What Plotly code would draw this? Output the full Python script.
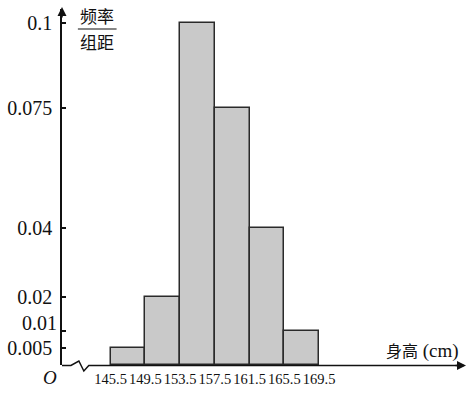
import plotly.graph_objects as go

# ---- data ----
bin_edges = [145.5, 149.5, 153.5, 157.5, 161.5, 165.5, 169.5]
freq_density = [0.005, 0.02, 0.1, 0.075, 0.04, 0.01]
y_ticks_main = [0.005, 0.02, 0.04, 0.075, 0.1]
y_tick_text_main = ["0.005", "0.02", "0.04", "0.075", "0.1"]
y_ticks_extra = [0.01]
y_tick_text_extra = ["0.01"]
x_tick_text = ["145.5", "149.5", "153.5", "157.5", "161.5", "165.5", "169.5"]

centers = [(a + b) / 2 for a, b in zip(bin_edges[:-1], bin_edges[1:])]
widths = [b - a for a, b in zip(bin_edges[:-1], bin_edges[1:])]

W, H = 472, 394
L, R, T, B = 59, 7, 9, 29
PW, PH = W - L - R, H - T - B

def px(xp):
    return (xp - L) / PW

def py(yp):
    return (H - B - yp) / PH

SERIF = "Liberation Serif, Times New Roman, serif"
CJK = "Noto Sans CJK SC"
INK = "#111"

fig = go.Figure()
fig.add_trace(go.Bar(
    x=centers, y=freq_density, width=widths,
    marker=dict(color="#c9c9c9", line=dict(color="#2a2a2a", width=1.5)),
    hoverinfo="skip",
))
# empty trace so the overlaid axis (for the 0.01 label) is drawn
fig.add_trace(go.Scatter(x=[None], y=[None], yaxis="y2", mode="markers",
                         hoverinfo="skip"))

ytickfont = dict(family=SERIF, size=20, color=INK)
fig.update_layout(
    width=W, height=H,
    margin=dict(l=L, r=R, t=T, b=B, pad=0),
    paper_bgcolor="white", plot_bgcolor="white",
    showlegend=False,
    bargap=0,
    xaxis=dict(
        range=[139.9, 186.3], showgrid=False, zeroline=False, showline=False,
        tickmode="array", tickvals=bin_edges, ticktext=x_tick_text,
        ticks="", tickangle=0, ticklabelstandoff=3,
        tickfont=dict(family=SERIF, size=14.5, color=INK),
    ),
    yaxis=dict(
        range=[0, 0.10409], showgrid=False, zeroline=False,
        showline=True, linecolor=INK, linewidth=1.5,
        tickmode="array", tickvals=y_ticks_main, ticktext=y_tick_text_main,
        ticks="inside", ticklen=4, tickwidth=1.5, tickcolor=INK,
        ticklabelstandoff=4, tickfont=ytickfont,
    ),
    yaxis2=dict(
        overlaying="y", matches="y", anchor="x", side="left",
        showgrid=False, zeroline=False, showline=False,
        tickmode="array", tickvals=y_ticks_extra, ticktext=y_tick_text_extra,
        ticks="inside", ticklen=4, tickwidth=1.5, tickcolor=INK,
        ticklabelstandoff=4, ticklabelshift=-8, tickfont=ytickfont,
    ),
)

# x axis line with break (zigzag)
pts = [(59, 365.5), (68, 365.5), (76, 361), (81, 371), (86, 365.5), (462, 365.5)]
path = "M " + " L ".join(f"{px(a):.5f},{py(b):.5f}" for a, b in pts)
fig.add_shape(type="path", path=path, xref="paper", yref="paper",
              line=dict(color=INK, width=1.5))

# arrowheads
fig.add_annotation(x=px(466), y=py(365.5), xref="paper", yref="paper",
                   ax=-12, ay=0, text="", showarrow=True, arrowhead=2,
                   arrowsize=1.2, arrowwidth=1.5, arrowcolor=INK)
fig.add_annotation(x=px(59), y=py(7), xref="paper", yref="paper",
                   ax=0, ay=12, text="", showarrow=True, arrowhead=2,
                   arrowsize=1.2, arrowwidth=1.5, arrowcolor=INK)

# y axis label: fraction
fig.add_annotation(x=px(94), y=py(15.5), xref="paper", yref="paper",
                   xanchor="center", yanchor="middle",
                   text="频率", showarrow=False,
                   font=dict(family=CJK, size=17, color=INK))
fig.add_shape(type="line", x0=px(75), x1=px(114), y0=py(29), y1=py(29),
              xref="paper", yref="paper", line=dict(color=INK, width=1.2))
fig.add_annotation(x=px(94), y=py(41.5), xref="paper", yref="paper",
                   xanchor="center", yanchor="middle",
                   text="组距", showarrow=False,
                   font=dict(family=CJK, size=17, color=INK))

# x axis label
fig.add_annotation(x=px(461), y=py(350), xref="paper", yref="paper",
                   xanchor="right", yanchor="middle", showarrow=False,
                   text="<span style='font-family:Noto Sans CJK SC;font-size:16px'>身高</span> (cm)",
                   font=dict(family=SERIF, size=19, color=INK))

# origin label
fig.add_annotation(x=px(47), y=py(377), xref="paper", yref="paper",
                   xanchor="center", yanchor="middle",
                   text="<i>O</i>", showarrow=False,
                   font=dict(family=SERIF, size=19, color=INK))

fig.write_html("out.html")
